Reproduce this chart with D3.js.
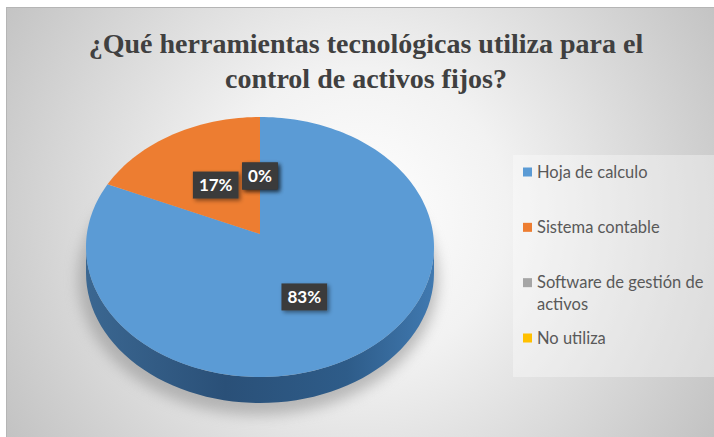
<!DOCTYPE html>
<html>
<head>
<meta charset="utf-8">
<script src="https://cdn.jsdelivr.net/npm/d3@7"></script>
<style>
  body { margin: 0; background: #ffffff; }
  svg { display: block; }
</style>
</head>
<body>
<script>
// datos del grafico
const categories = ["Hoja de calculo", "Sistema contable", "Software de gestión de activos", "No utiliza"];
const values = [83, 17, 0, 0];
const pctLabels = ["83%", "17%", "0%", "0%"];
const colors = ["#5B9BD5", "#ED7D31", "#A5A5A5", "#FFC000"];
const titleLines = ["¿Qué herramientas tecnológicas utiliza para el", "control de activos fijos?"];

const W = 714, H = 437;
const svg = d3.select("body").append("svg").attr("width", W).attr("height", H);
const defs = svg.append("defs");

// fondo degradado radial
const bg = defs.append("radialGradient").attr("id", "bg")
    .attr("gradientUnits", "userSpaceOnUse")
    .attr("cx", 360).attr("cy", 215).attr("r", 420);
bg.append("stop").attr("offset", "0%").attr("stop-color", "#ffffff");
bg.append("stop").attr("offset", "35%").attr("stop-color", "#f2f2f2");
bg.append("stop").attr("offset", "100%").attr("stop-color", "#c2c2c2");

const side = defs.append("linearGradient").attr("id", "side")
    .attr("gradientUnits", "userSpaceOnUse")
    .attr("x1", 86).attr("x2", 434).attr("y1", 0).attr("y2", 0);
side.append("stop").attr("offset", "0%").attr("stop-color", "#3b6791");
side.append("stop").attr("offset", "40%").attr("stop-color", "#2a5078");
side.append("stop").attr("offset", "75%").attr("stop-color", "#2e5c89");
side.append("stop").attr("offset", "100%").attr("stop-color", "#4079b0");

const blur = defs.append("filter").attr("id", "blur")
    .attr("x", "-20%").attr("y", "-20%").attr("width", "140%").attr("height", "140%");
blur.append("feGaussianBlur").attr("stdDeviation", 7);

const shadow = defs.append("filter").attr("id", "lblShadow")
    .attr("x", "-30%").attr("y", "-30%").attr("width", "170%").attr("height", "170%");
shadow.append("feDropShadow").attr("dx", 2).attr("dy", 2).attr("stdDeviation", 2)
    .attr("flood-color", "#000").attr("flood-opacity", 0.45);

svg.append("rect")
    .attr("x", 6.5).attr("y", 7.5).attr("width", W).attr("height", H)
    .attr("fill", "url(#bg)").attr("stroke", "#b5b5b5");

// titulo
svg.append("text")
    .attr("x", 366).attr("y", 53)
    .attr("text-anchor", "middle")
    .style("font-family", "'Liberation Serif', 'Times New Roman', serif")
    .style("font-weight", "bold").style("font-size", "28px")
    .attr("fill", "#404040")
    .selectAll("tspan").data(titleLines).enter().append("tspan")
    .attr("x", 366).attr("dy", (d, i) => i ? 35 : 0)
    .text(d => d);

// pastel 3D
const cx = 260, cy = 247, rx = 174, ry = 130, apexY = 234, depth = 26;
const pie = d3.pie().sort(null).startAngle(0).endAngle(2 * Math.PI);
const arcs = pie(values);
const rim = (a, dz = 0) => [cx + rx * Math.sin(a), cy - ry * Math.cos(a) + dz];

// sombra
svg.append("ellipse")
    .attr("cx", cx - 2).attr("cy", cy + depth + 6).attr("rx", rx + 6).attr("ry", ry + 6)
    .attr("fill", "#8c8c8c").attr("opacity", 0.55).attr("filter", "url(#blur)");

const line = d3.line();

// lado frontal
arcs.forEach((d, i) => {
    const s = Math.max(d.startAngle, Math.PI / 2);
    const e = Math.min(d.endAngle, 3 * Math.PI / 2);
    if (e <= s) return;
    const top = d3.range(0, 61).map(k => rim(s + (e - s) * k / 60));
    const bot = top.slice().reverse().map(p => [p[0], p[1] + depth]);
    svg.append("path")
        .attr("d", line(top.concat(bot)) + "Z")
        .attr("fill", i === 0 ? "url(#side)" : d3.color(colors[i]).darker(1));
});

// caras superiores
arcs.forEach((d, i) => {
    if (d.endAngle - d.startAngle <= 0) return;
    const n = Math.max(2, Math.ceil((d.endAngle - d.startAngle) * 40));
    const pts = [[cx, apexY]].concat(d3.range(0, n + 1).map(k =>
        rim(d.startAngle + (d.endAngle - d.startAngle) * k / n)));
    svg.append("path")
        .attr("d", line(pts) + "Z")
        .attr("fill", colors[i]);
});

// etiquetas de datos
const labelG = svg.append("g");
arcs.forEach((d, i) => {
    const a = (d.startAngle + d.endAngle) / 2;
    const p = rim(a);
    const x = cx + (p[0] - cx) * 0.5;
    const y = apexY + (p[1] - apexY) * 0.5;
    const g = labelG.append("g").attr("transform", `translate(${x},${y})`);
    const rect = g.append("rect").attr("fill", "#3b3b3b").attr("filter", "url(#lblShadow)");
    const t = g.append("text")
        .attr("text-anchor", "middle").attr("dy", "0.36em")
        .style("font-family", "Lato, 'Open Sans', sans-serif")
        .style("font-weight", "bold").style("font-size", "17px")
        .attr("fill", "#ffffff")
        .text(pctLabels[i]);
    const w = t.node().getComputedTextLength() + 12;
    rect.attr("x", -w / 2).attr("y", -13).attr("width", w).attr("height", 27);
});

// leyenda
svg.append("rect")
    .attr("x", 513).attr("y", 155).attr("width", 210).attr("height", 222)
    .attr("fill", "#ffffff").attr("opacity", 0.35);

const legendY = d3.scaleLinear().domain([0, 3]).range([172, 338]);
const legend = svg.append("g").selectAll("g").data(categories).enter().append("g")
    .attr("transform", (d, i) => `translate(523,${legendY(i)})`);
legend.append("rect")
    .attr("x", 0).attr("y", -4.5).attr("width", 9).attr("height", 9)
    .attr("fill", (d, i) => colors[i]);
legend.append("text")
    .attr("x", 14).attr("dy", "0.35em")
    .style("font-family", "Lato, 'Open Sans', sans-serif")
    .style("font-size", "16.5px")
    .attr("fill", "#595959")
    .each(function(d) {
        // ajuste de linea
        const el = d3.select(this);
        const words = d.split(" ");
        let lineWords = [];
        let tspan = el.append("tspan").attr("x", 14);
        words.forEach(w => {
            lineWords.push(w);
            tspan.text(lineWords.join(" "));
            if (tspan.node().getComputedTextLength() > 180 && lineWords.length > 1) {
                lineWords.pop();
                tspan.text(lineWords.join(" "));
                lineWords = [w];
                tspan = el.append("tspan").attr("x", 14).attr("dy", 22).text(w);
            }
        });
    });
</script>
</body>
</html>
